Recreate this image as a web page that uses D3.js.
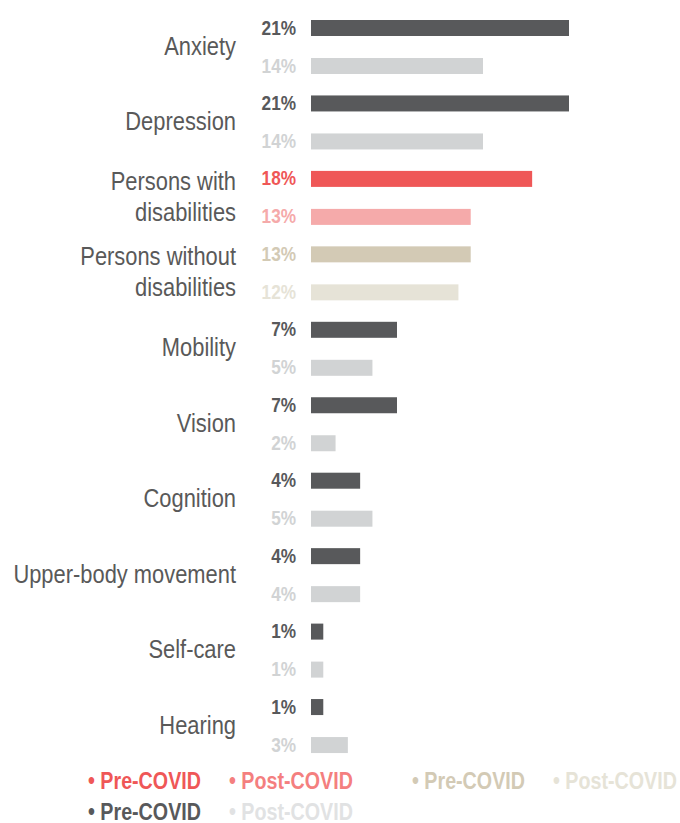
<!DOCTYPE html>
<html>
<head>
<meta charset="utf-8">
<script src="https://cdn.jsdelivr.net/npm/d3@7"></script>
<style>
  body { margin: 0; background: #fff; }
  svg text { font-family: "Liberation Sans", Arial, sans-serif; }
</style>
</head>
<body>
<svg id="chart" width="680" height="823"></svg>
<script>
// data
const categories = ["Anxiety", "Depression", "Persons with disabilities", "Persons without disabilities",
  "Mobility", "Vision", "Cognition", "Upper-body movement", "Self-care", "Hearing"]
const labelLines = [["Anxiety"], ["Depression"], ["Persons with", "disabilities"], ["Persons without", "disabilities"],
  ["Mobility"], ["Vision"], ["Cognition"], ["Upper-body movement"], ["Self-care"], ["Hearing"]]
const preCovid = [21, 21, 18, 13, 7, 7, 4, 4, 1, 1]
const postCovid = [14, 14, 13, 12, 5, 2, 5, 4, 1, 3]
const legendLabels = ["Pre-COVID", "Post-COVID"]

// colour per category: [pre, post]
const grey = ["#58595b", "#d1d3d4"]
const red = ["#ef5757", "#f5aaaa"]
const tan = ["#d3cab5", "#e6e3d7"]
const palette = d3.scaleOrdinal()
  .domain(categories)
  .range([grey, grey, red, tan, grey, grey, grey, grey, grey, grey])

// no narrow font installed, so squeeze the regular one
const narrow = 0.82
const at = (x, y) => "translate(" + x + "," + y + ") scale(" + narrow + ",1)"

var svg = d3.select("#chart")

var x = d3.scaleLinear()
  .domain([0, 21])
  .range([311, 569])

var y = d3.scaleBand()
  .domain(categories)
  .range([20, 20 + 75.45 * categories.length])

var inner = d3.scalePoint()
  .domain(["pre", "post"])
  .range([0, 38])

const barH = 16

var rows = svg.selectAll(".row")
  .data(categories)
  .enter().append("g")
  .attr("class", "row")
  .attr("transform", (d) => "translate(0," + y(d) + ")")

rows.each(function (cat, i) {
  var g = d3.select(this)
  var cols = palette(cat)
  var vals = [["pre", preCovid[i], cols[0]], ["post", postCovid[i], cols[1]]]

  vals.forEach(([k, v, c]) => {
    g.append("rect")
      .attr("x", x(0))
      .attr("y", inner(k))
      .attr("width", x(v) - x(0))
      .attr("height", barH)
      .attr("fill", c)

    g.append("text")
      .attr("transform", at(296, inner(k) + barH / 2 - 1))
      .attr("dy", "0.36em")
      .attr("text-anchor", "end")
      .attr("font-size", "21px")
      .attr("font-weight", "bold")
      .attr("fill", c)
      .text(v + "%")
  })

  // category label, centred on the pair of bars
  var lines = labelLines[i]
  var mid = (inner("post") + barH) / 2 - 2
  var lh = 31
  lines.forEach((t, j) => {
    g.append("text")
      .attr("transform", at(236, mid + (j - (lines.length - 1) / 2) * lh))
      .attr("dy", "0.36em")
      .attr("text-anchor", "end")
      .attr("font-size", "26.7px")
      .attr("fill", "#595959")
      .text(t)
  })
})

// legend
const legendItems = [
  {x: 88, y: 780, label: legendLabels[0], color: "#ef5757"},
  {x: 229, y: 780, label: legendLabels[1], color: "#f47f7f"},
  {x: 412, y: 780, label: legendLabels[0], color: "#d3cab5"},
  {x: 553, y: 780, label: legendLabels[1], color: "#e6e3d7"},
  {x: 88, y: 811, label: legendLabels[0], color: "#58595b"},
  {x: 229, y: 811, label: legendLabels[1], color: "#e1e2e3"}
]

svg.selectAll(".legend")
  .data(legendItems)
  .enter().append("text")
  .attr("class", "legend")
  .attr("transform", (d) => at(d.x, d.y))
  .attr("dy", "0.36em")
  .attr("font-size", "24px")
  .attr("font-weight", "bold")
  .attr("fill", (d) => d.color)
  .text((d) => "\u2022 " + d.label)
</script>
</body>
</html>
